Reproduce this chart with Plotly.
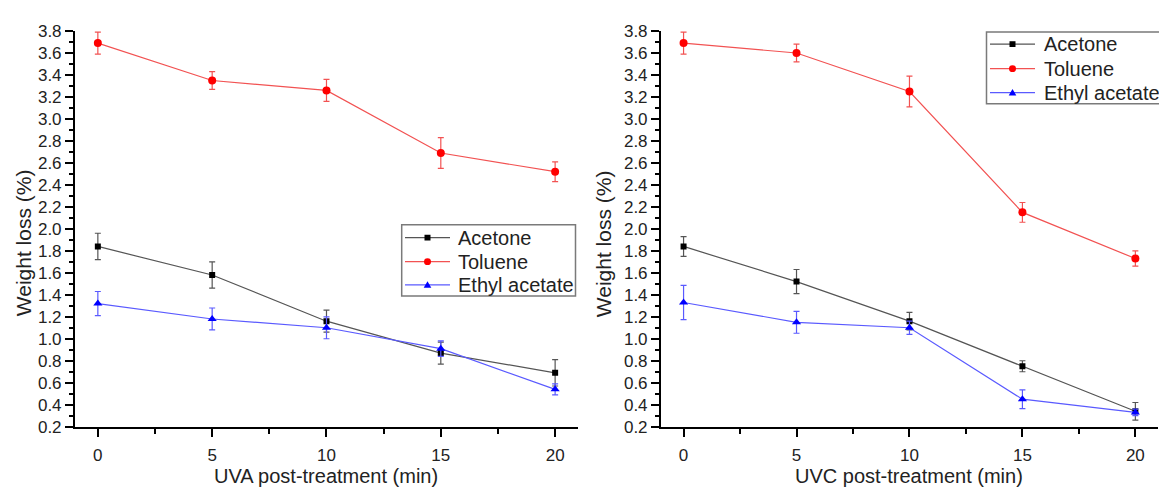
import plotly.graph_objects as go

time_min = [0, 5, 10, 15, 20]
series_names = ["Acetone", "Toluene", "Ethyl acetate"]

uva_acetone = [1.84, 1.58, 1.16, 0.87, 0.69]
uva_acetone_err = [0.12, 0.12, 0.10, 0.10, 0.12]
uva_toluene = [3.69, 3.35, 3.26, 2.69, 2.52]
uva_toluene_err = [0.10, 0.08, 0.10, 0.14, 0.09]
uva_ethyl = [1.32, 1.18, 1.10, 0.91, 0.54]
uva_ethyl_err = [0.11, 0.10, 0.10, 0.07, 0.05]

uvc_acetone = [1.84, 1.52, 1.16, 0.75, 0.34]
uvc_acetone_err = [0.09, 0.11, 0.08, 0.05, 0.08]
uvc_toluene = [3.69, 3.60, 3.25, 2.15, 1.73]
uvc_toluene_err = [0.10, 0.08, 0.14, 0.09, 0.07]
uvc_ethyl = [1.33, 1.15, 1.10, 0.45, 0.33]
uvc_ethyl_err = [0.155, 0.10, 0.06, 0.085, 0.03]

x_titles = ["UVA post-treatment (min)", "UVC post-treatment (min)"]
y_title = "Weight loss (%)"

styles = {
    "Acetone": dict(line="#555555", marker="#000000", symbol="square", size=6),
    "Toluene": dict(line="#f25252", marker="#ff0000", symbol="circle", size=8),
    "Ethyl acetate": dict(line="#5a5aff", marker="#0000ff", symbol="triangle-up", size=8),
}

FONT = "Liberation Sans, Arial, sans-serif"
W, H = 1159, 498


def px(x):
    return x / W


def py(y):
    return 1 - y / H


fig = go.Figure()

panels = [
    ("x", "y", [uva_acetone, uva_toluene, uva_ethyl],
     [uva_acetone_err, uva_toluene_err, uva_ethyl_err]),
    ("x2", "y2", [uvc_acetone, uvc_toluene, uvc_ethyl],
     [uvc_acetone_err, uvc_toluene_err, uvc_ethyl_err]),
]

for xa, ya, vals, errs in panels:
    for name, v, e in zip(series_names, vals, errs):
        st = styles[name]
        fig.add_trace(go.Scatter(
            x=time_min, y=v, name=name, mode="lines+markers",
            xaxis=xa, yaxis=ya, showlegend=False,
            line=dict(color=st["line"], width=1.2),
            marker=dict(color=st["marker"], symbol=st["symbol"], size=st["size"]),
            error_y=dict(type="data", array=e, visible=True, color=st["line"],
                         thickness=1.2, width=3),
        ))

xaxis_common = dict(
    range=[-1, 21], tickmode="array", tickvals=[0, 5, 10, 15, 20],
    ticks="outside", ticklen=8, tickwidth=1.5, tickcolor="black",
    showline=True, linewidth=2, linecolor="black", showgrid=False, zeroline=False,
    tickfont=dict(family=FONT, size=17, color="#222"),
    ticklabelstandoff=4,
    minor=dict(dtick=2.5, tick0=0, ticks="outside", ticklen=5, tickwidth=1.5, tickcolor="black"),
)
yaxis_common = dict(
    range=[0.2, 3.8], dtick=0.2, tick0=0.2, tickformat=".1f",
    ticks="outside", ticklen=8, tickwidth=1.5, tickcolor="black",
    showline=True, linewidth=2, linecolor="black", showgrid=False, zeroline=False,
    tickfont=dict(family=FONT, size=17, color="#222"),
    minor=dict(dtick=0.1, tick0=0.2, ticks="outside", ticklen=4, tickwidth=1.5, tickcolor="black"),
)

x_domains = [[0.0647, 0.4987], [0.5703, 0.9991]]
ydom = [0.128, 0.954]

annotations = []
shapes = []

# axis titles
for dom, title, ytx in zip(x_domains, x_titles, [23, 603]):
    annotations.append(dict(
        text=title, xref="paper", yref="paper", x=(dom[0] + dom[1]) / 2, y=py(485.5),
        xanchor="center", yanchor="middle", showarrow=False,
        font=dict(family=FONT, size=20, color="#222")))
    annotations.append(dict(
        text=y_title, xref="paper", yref="paper", x=px(ytx), y=py(243.5),
        xanchor="center", yanchor="middle", showarrow=False, textangle=-90,
        font=dict(family=FONT, size=21, color="#222")))

# legends (box, sample line, marker, text)
legend_specs = [
    dict(box=(401.7, 224.3, 575.5, 298.5), rows=[237.7, 262.7, 286.9], line=(405, 450), text_x=456),
    dict(box=(986.5, 24, 1162, 98.5), rows=[36.5, 62.0, 87.0], line=(990, 1035), text_x=1041.5),
]
for spec in legend_specs:
    x0, y0, x1, y1 = spec["box"]
    shapes.append(dict(type="rect", xref="paper", yref="paper",
                       x0=px(x0), x1=px(x1), y0=py(y0), y1=py(y1),
                       line=dict(color="#7a7a7a", width=1.5), fillcolor="rgba(255,255,255,0.9)",
                       layer="above"))
    lx0, lx1 = spec["line"]
    cx = (lx0 + lx1) / 2
    for name, ry in zip(series_names, spec["rows"]):
        st = styles[name]
        shapes.append(dict(type="line", xref="paper", yref="paper",
                           x0=px(lx0), x1=px(lx1), y0=py(ry), y1=py(ry),
                           line=dict(color=st["line"], width=1.2), layer="above"))
        if st["symbol"] == "square":
            shapes.append(dict(type="rect", xref="paper", yref="paper",
                               x0=px(cx - 3), x1=px(cx + 3), y0=py(ry - 3), y1=py(ry + 3),
                               line=dict(width=0), fillcolor=st["marker"], layer="above"))
        elif st["symbol"] == "circle":
            shapes.append(dict(type="circle", xref="paper", yref="paper",
                               x0=px(cx - 3.5), x1=px(cx + 3.5), y0=py(ry - 3.5), y1=py(ry + 3.5),
                               line=dict(width=0), fillcolor=st["marker"], layer="above"))
        else:
            path = "M {:.5f} {:.5f} L {:.5f} {:.5f} L {:.5f} {:.5f} Z".format(
                px(cx - 3.8), py(ry + 3), px(cx + 3.8), py(ry + 3), px(cx), py(ry - 3.8))
            shapes.append(dict(type="path", xref="paper", yref="paper", path=path,
                               line=dict(width=0), fillcolor=st["marker"], layer="above"))
        annotations.append(dict(
            text=name, xref="paper", yref="paper", x=px(spec["text_x"]), y=py(ry),
            xanchor="left", yanchor="middle", showarrow=False,
            font=dict(family=FONT, size=20, color="#222")))

fig.update_layout(
    width=W, height=H,
    margin=dict(l=0, r=0, t=0, b=0),
    paper_bgcolor="white", plot_bgcolor="white",
    showlegend=False,
    xaxis=dict(**xaxis_common, domain=x_domains[0], anchor="y"),
    yaxis=dict(**yaxis_common, domain=ydom, anchor="x"),
    xaxis2=dict(**xaxis_common, domain=x_domains[1], anchor="y2"),
    yaxis2=dict(**yaxis_common, domain=ydom, anchor="x2"),
    annotations=annotations,
    shapes=shapes,
)

fig.write_html("out.html")
